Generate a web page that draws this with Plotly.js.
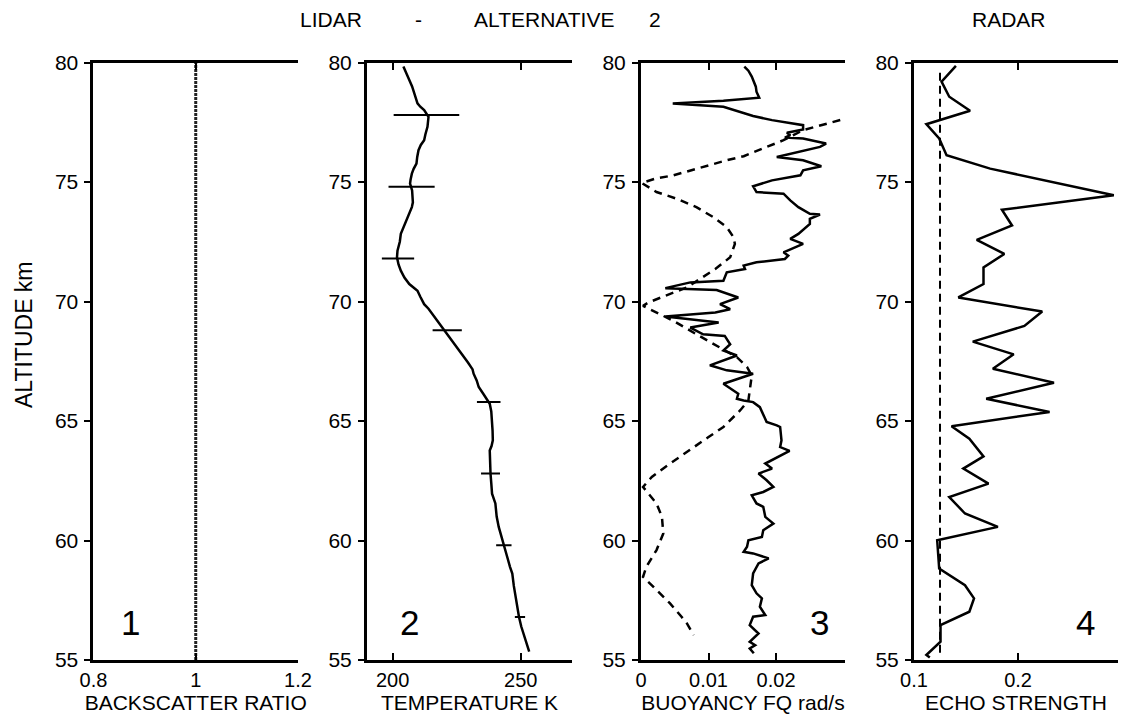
<!DOCTYPE html>
<html><head><meta charset="utf-8">
<script src="https://cdn.plot.ly/plotly-3.0.1.min.js"></script>
<style>html,body{margin:0;padding:0;background:#fff}</style>
</head><body><div id="chart" style="width:1122px;height:717px"></div>
<script>
// Panel 1: backscatter ratio
const backAlt = [55, 80];
const backRatio = [1, 1];

// Panel 2: temperature profile
const tempAlt = [79.83,79.55,79.27,79.0,78.71,78.5,78.29,78.15,78.01,77.73,77.5,77.31,77.0,76.75,76.55,76.33,76.05,75.77,75.55,75.35,75.1,74.93,74.65,74.37,74.15,73.95,73.65,73.39,73.1,72.83,72.5,72.13,71.85,71.55,71.29,71.0,70.73,70.45,70.2,69.89,69.7,69.47,69.2,68.91,68.6,68.35,68.05,67.79,67.45,67.16,66.98,66.7,66.42,66.15,65.93,65.72,65.4,65.03,64.6,64.19,63.95,63.77,63.3,62.8,62.4,61.96,61.55,61.0,60.57,60.2,59.87,59.32,58.9,58.62,58.1,57.65,57.2,56.81,56.4,56.11,55.7,55.35];
const tempK = [204.2,205.5,206.5,207.6,208.4,209.2,209.7,210.8,212.3,214.0,213.9,213.6,212.8,212.3,211.0,210.1,209.6,209.3,208.2,207.5,207.0,206.8,207.6,207.8,207.9,207.5,206.4,205.5,204.2,203.2,202.8,201.9,201.7,202.3,203.2,204.6,206.5,209.7,210.8,212.3,214.0,215.6,217.4,219.5,221.7,223.4,225.5,227.3,229.4,231.2,231.6,232.8,233.6,235.3,236.8,237.9,238.5,238.8,239.0,239.1,238.6,237.9,238.0,238.2,238.5,238.8,240.1,240.6,241.4,242.3,243.4,244.7,245.8,246.7,247.3,248.0,248.5,249.3,250.2,251.1,252.3,253.3];
const errAlt = [77.8,74.8,71.8,68.8,65.8,62.8,59.8,56.8];
const errCenter = [213.2,207.4,202.1,221.3,237.5,238.2,243.4,249.7];
const errHalf = [12.8,9.0,6.3,5.7,4.6,3.7,3.0,2.0];

// Panel 3: buoyancy frequency
const buoyAlt = [79.83,79.66,79.41,79.2,78.99,78.78,78.57,78.53,78.40,78.29,78.15,78.01,77.87,77.76,77.59,77.52,77.38,77.20,77.06,76.96,76.86,76.82,76.61,76.47,76.05,75.91,75.66,75.49,75.28,75.07,74.82,74.58,74.51,74.23,73.95,73.67,73.64,73.46,73.25,72.83,72.62,72.41,72.06,71.92,71.78,71.64,71.50,71.36,71.22,70.87,70.80,70.56,70.52,70.48,70.17,69.89,69.68,69.54,69.37,69.26,69.12,68.91,68.63,68.56,68.21,67.95,67.74,67.33,67.12,66.98,66.56,66.14,65.93,65.86,65.79,65.58,65.24,64.96,64.82,64.75,64.19,63.91,63.75,63.43,63.22,63.01,62.80,62.52,62.24,62.03,61.89,61.55,61.41,60.99,60.71,60.43,60.15,60.01,59.74,59.53,59.46,59.25,59.04,58.62,58.13,57.79,57.58,57.23,56.88,56.81,56.46,56.11,55.76,55.62,55.48,55.28];
const buoyN = [0.0153,0.0159,0.0164,0.0167,0.0170,0.0171,0.0174,0.0175,0.0122,0.0047,0.0122,0.0137,0.0154,0.0166,0.0194,0.0211,0.0240,0.0240,0.0216,0.0221,0.0213,0.0240,0.0274,0.0265,0.0201,0.0240,0.0267,0.0240,0.0236,0.0194,0.0166,0.0171,0.0211,0.0221,0.0233,0.0250,0.0265,0.0250,0.0250,0.0233,0.0221,0.0240,0.0211,0.0218,0.0213,0.0171,0.0152,0.0154,0.0127,0.0122,0.0073,0.0036,0.0068,0.0112,0.0144,0.0117,0.0132,0.0110,0.0036,0.0068,0.0115,0.0073,0.0092,0.0124,0.0132,0.0122,0.0142,0.0102,0.0127,0.0166,0.0122,0.0144,0.0142,0.0152,0.0166,0.0176,0.0181,0.0186,0.0201,0.0206,0.0208,0.0206,0.0220,0.0199,0.0184,0.0194,0.0174,0.0186,0.0196,0.0181,0.0164,0.0171,0.0181,0.0184,0.0196,0.0181,0.0179,0.0159,0.0157,0.0152,0.0166,0.0189,0.0174,0.0166,0.0164,0.0171,0.0179,0.0176,0.0184,0.0166,0.0161,0.0174,0.0161,0.0169,0.0161,0.0167];
const buoyDashAlt = [77.75,77.48,77.17,76.75,76.40,76.08,75.91,75.66,75.28,75.14,74.96,74.58,74.30,73.95,73.53,73.11,72.69,72.41,71.85,71.36,70.94,70.59,70.24,69.96,69.82,69.61,69.19,68.63,68.14,67.67,67.26,66.90,66.28,65.86,65.45,64.75,64.33,63.91,63.50,63.08,62.66,62.24,61.55,60.99,60.29,59.60,58.90,58.48,57.93,57.37,56.81,56.53,56.04];
const buoyDashN = [0.0315,0.0280,0.0240,0.0211,0.0179,0.0152,0.0127,0.0097,0.0048,0.0021,0.0001,0.0023,0.0053,0.0082,0.0107,0.0127,0.0137,0.0139,0.0132,0.0110,0.0087,0.0068,0.0036,0.0011,0.0003,0.0018,0.0048,0.0082,0.0112,0.0142,0.0157,0.0164,0.0161,0.0159,0.0147,0.0122,0.0100,0.0078,0.0058,0.0036,0.0016,0.0003,0.0023,0.0031,0.0033,0.0023,0.0008,0.0003,0.0023,0.0043,0.0060,0.0068,0.0078];

// Panel 4: radar echo strength
const echoAlt = [79.86,79.20,78.57,77.98,77.42,76.82,76.12,75.56,74.45,73.84,73.18,72.58,71.99,71.43,70.73,70.17,69.58,68.98,68.32,67.79,67.19,66.60,65.93,65.38,64.78,64.26,63.52,63.01,62.38,61.82,61.13,60.57,60.01,58.83,58.13,57.58,57.02,56.46,55.77,55.21,55.10];
const echoVal = [0.1403,0.1265,0.1339,0.1539,0.1119,0.1242,0.1313,0.1732,0.2920,0.1845,0.1942,0.1603,0.1868,0.1668,0.1668,0.1426,0.2232,0.2061,0.1565,0.1958,0.1758,0.2345,0.1694,0.2303,0.1361,0.1532,0.1668,0.1474,0.1716,0.1339,0.1490,0.1806,0.1223,0.1242,0.1490,0.1577,0.1532,0.1255,0.1255,0.1119,0.1152];
const echoRefAlt = [55.3, 79.6];
const echoRef = [0.125, 0.125];

const FONT = 'Liberation Sans, Arial, Helvetica, sans-serif';
const doms = [[0.0833,0.2656],[0.3271,0.5098],[0.5713,0.7531],[0.8146,0.9964]];
const ydom = [0.0795,0.9128];
const xRanges = [[0.8,1.2],[190,270],[0,0.0302],[0.1,0.296]];
const xTickVals = [[0.8,1,1.2],[200,250],[0,0.01,0.02],[0.1,0.2]];
const xTickText = [['0.8','1','1.2'],['200','250'],['0','0.01','0.02'],['0.1','0.2']];
const xTitles = ['BACKSCATTER RATIO','TEMPERATURE K','BUOYANCY FQ rad/s','ECHO STRENGTH'];
const panelNums = ['1','2','3','4'];
const numPos = [[0.18,0.062],[0.205,0.062],[0.877,0.062],[0.84,0.062]];

const layout = {
  width:1122, height:717,
  margin:{l:0,r:0,t:0,b:0},
  paper_bgcolor:'#fff', plot_bgcolor:'#fff',
  showlegend:false,
  font:{family:FONT, color:'#000', size:21},
  annotations:[]
};
for (let i=0;i<4;i++){
  const n = i===0?'':String(i+1);
  const no = String(i+5);
  layout['xaxis'+n] = {
    domain:doms[i], range:xRanges[i], anchor:'y'+n,
    tickmode:'array', tickvals:xTickVals[i], ticktext:xTickText[i],
    ticks:'inside', ticklen:7, tickwidth:2, tickcolor:'#000',
    showline:true, linewidth:3, linecolor:'#000', mirror:'ticks',
    showgrid:false, zeroline:false, fixedrange:true,
    tickfont:{size:20, family:FONT}, ticklabelstandoff:0,
    title:{text:xTitles[i], font:{size:21, family:FONT}, standoff:5}
  };
  layout['yaxis'+n] = {
    domain:ydom, range:[55,80], anchor:'x'+n,
    tickmode:'linear', tick0:55, dtick:5,
    ticks:'outside', ticklen:6, tickwidth:2, tickcolor:'#000',
    showline:true, linewidth:3, linecolor:'#000', mirror:false,
    showgrid:false, zeroline:false, fixedrange:true,
    tickfont:{size:21, family:FONT}, ticklabelstandoff:2
  };
  layout['yaxis'+no] = {
    overlaying:'y'+n, side:'right', anchor:'x'+n, range:[55,80],
    tickmode:'linear', tick0:55, dtick:5,
    ticks:'inside', ticklen:8, tickwidth:2, tickcolor:'#000',
    showline:true, linewidth:3, linecolor:'#000',
    showticklabels:false, showgrid:false, zeroline:false, fixedrange:true
  };
  layout.annotations.push({
    xref:'x'+n+' domain', yref:'y'+n+' domain', x:numPos[i][0], y:numPos[i][1],
    text:panelNums[i], showarrow:false, font:{size:35, family:FONT, color:'#000'},
    xanchor:'center', yanchor:'middle'
  });
}
layout.annotations.push({xref:'paper', yref:'paper', x:24/1122, y:1-335/717, text:'ALTITUDE km',
  textangle:-90, showarrow:false, xanchor:'center', yanchor:'middle', font:{size:23, family:FONT, color:'#000'}});

const topTexts = [['LIDAR',331],['-',418],['ALTERNATIVE',544],['2',655],['RADAR',1009]];
topTexts.forEach(t=>{
  layout.annotations.push({xref:'paper', yref:'paper', x:t[1]/1122, y:1-19/717, text:t[0],
    showarrow:false, xanchor:'center', yanchor:'middle', font:{size:21, family:FONT, color:'#000'}});
});

const L = {color:'#000', width:2.5};
const traces = [
  {x:backRatio, y:backAlt, xaxis:'x', yaxis:'y', mode:'lines', line:{color:'#222', width:3, dash:'3px,1px'}},
  {x:tempK, y:tempAlt, xaxis:'x2', yaxis:'y2', mode:'lines', line:L},
  {x:errCenter, y:errAlt, xaxis:'x2', yaxis:'y2', mode:'markers', marker:{size:1, color:'rgba(0,0,0,0)'},
    error_x:{type:'data', array:errHalf, visible:true, width:0, thickness:2, color:'#000'}},
  {x:buoyN, y:buoyAlt, xaxis:'x3', yaxis:'y3', mode:'lines', line:L},
  {x:buoyDashN, y:buoyDashAlt, xaxis:'x3', yaxis:'y3', mode:'lines', line:{color:'#000', width:2.5, dash:'8px,6px'}},
  {x:echoVal, y:echoAlt, xaxis:'x4', yaxis:'y4', mode:'lines', line:L},
  {x:echoRef, y:echoRefAlt, xaxis:'x4', yaxis:'y4', mode:'lines', line:{color:'#000', width:2, dash:'8px,5px'}}
];
Plotly.newPlot('chart', traces, layout, {staticPlot:true, displayModeBar:false});
</script>
</body></html>
